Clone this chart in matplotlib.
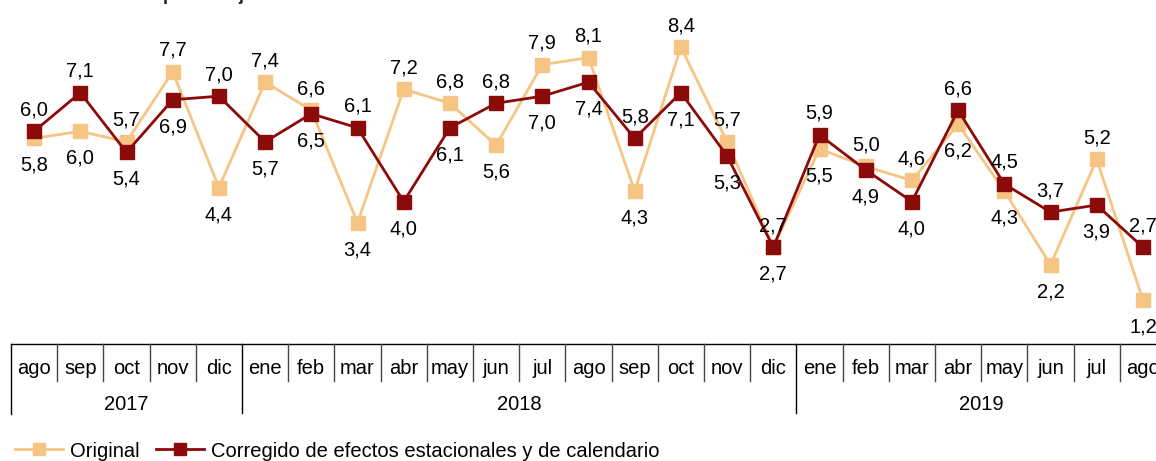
import matplotlib
matplotlib.use("Agg")
import matplotlib.pyplot as plt

plt.rcParams['font.family'] = ['Liberation Sans', 'DejaVu Sans']

months = ["ago", "sep", "oct", "nov", "dic", "ene", "feb", "mar", "abr", "may", "jun", "jul",
          "ago", "sep", "oct", "nov", "dic", "ene", "feb", "mar", "abr", "may", "jun", "jul", "ago"]
years = ["2017", "2018", "2019"]
year_spans = [(0, 4), (5, 16), (17, 24)]
original = [5.8, 6.0, 5.7, 7.7, 4.4, 7.4, 6.6, 3.4, 7.2, 6.8, 5.6, 7.9,
            8.1, 4.3, 8.4, 5.7, 2.7, 5.5, 5.0, 4.6, 6.2, 4.3, 2.2, 5.2, 1.2]
corregido = [6.0, 7.1, 5.4, 6.9, 7.0, 5.7, 6.5, 6.1, 4.0, 6.1, 6.8, 7.0,
             7.4, 5.8, 7.1, 5.3, 2.7, 5.9, 4.9, 4.0, 6.6, 4.5, 3.7, 3.9, 2.7]
names = ["Original", "Corregido de efectos estacionales y de calendario"]

c_orig = "#F6C584"
c_corr = "#8B0A0A"

W, H = 1156, 461
fig = plt.figure(figsize=(W / 100, H / 100), dpi=100)

left_px, right_px = 11, 1166
ax_bottom_px = 342
ax = fig.add_axes([left_px / W, (H - ax_bottom_px) / H, (right_px - left_px) / W, ax_bottom_px / H])
ax.set_xlim(-0.5, len(months) - 0.5)
ax.set_ylim(0, 9.74)
ax.axis('off')

x = list(range(len(months)))
l1, = ax.plot(x, original, color=c_orig, lw=2, marker='s', ms=10, mec=c_orig, clip_on=False,
              label=names[0], zorder=2)
l2, = ax.plot(x, corregido, color=c_corr, lw=2, marker='s', ms=10, mec=c_corr, clip_on=False,
              label=names[1], zorder=3)

fs = 14.5
for i in x:
    o, c = original[i], corregido[i]
    if c >= o:
        top_v, bot_v = c, o
    else:
        top_v, bot_v = o, c
    ax.annotate(f"{top_v:.1f}".replace('.', ','), (i, top_v), xytext=(0, 15.5),
                textcoords='offset points', ha='center', va='center', fontsize=fs,
                annotation_clip=False)
    ax.annotate(f"{bot_v:.1f}".replace('.', ','), (i, bot_v), xytext=(0, -19.5),
                textcoords='offset points', ha='center', va='center', fontsize=fs,
                annotation_clip=False)

# table of month / year labels
tab_top_px, tab_bot_px = 342, 414
tax = fig.add_axes([left_px / W, (H - tab_bot_px) / H, (right_px - left_px) / W,
                    (tab_bot_px - tab_top_px) / H])
tax.set_xlim(-0.5, len(months) - 0.5)
tax.set_ylim(tab_bot_px - tab_top_px, 0)
tax.axis('off')
lc = "#000000"
tax.plot([-0.5, len(months) - 0.5], [1.5, 1.5], color=lc, lw=1, clip_on=False)
tax.plot([-0.5, -0.5], [1.5, 72], color=lc, lw=1, clip_on=False)
year_starts = [s for s, e in year_spans]
for i in range(1, len(months)):
    if i in year_starts:
        tax.plot([i - 0.5, i - 0.5], [1.5, 71], color=lc, lw=1, clip_on=False)
    else:
        tax.plot([i - 0.5, i - 0.5], [1.5, 39], color="#444444", lw=1, clip_on=False)
for i, m in enumerate(months):
    tax.text(i, 26, m, ha='center', va='center', fontsize=fs, clip_on=False)
for y, (s, e) in zip(years, year_spans):
    tax.text((s + e) / 2, 62, y, ha='center', va='center', fontsize=fs, clip_on=False)

# legend
leg = fig.legend(handles=[l1, l2], loc='center left',
                 bbox_to_anchor=(15 / W, (H - 451) / H), ncol=2, frameon=False,
                 fontsize=fs, handlelength=2.4, handletextpad=0.35, columnspacing=0.8,
                 borderpad=0, borderaxespad=0, markerscale=0.9)

# title (cut off at the top in the reference)
fig.text(0, 1 - 0.4 / H, "Variación anual en porcentaje", ha='left', va='baseline',
         fontsize=13, fontweight='bold', color="#222222")

fig.savefig("out.png", dpi=100)
